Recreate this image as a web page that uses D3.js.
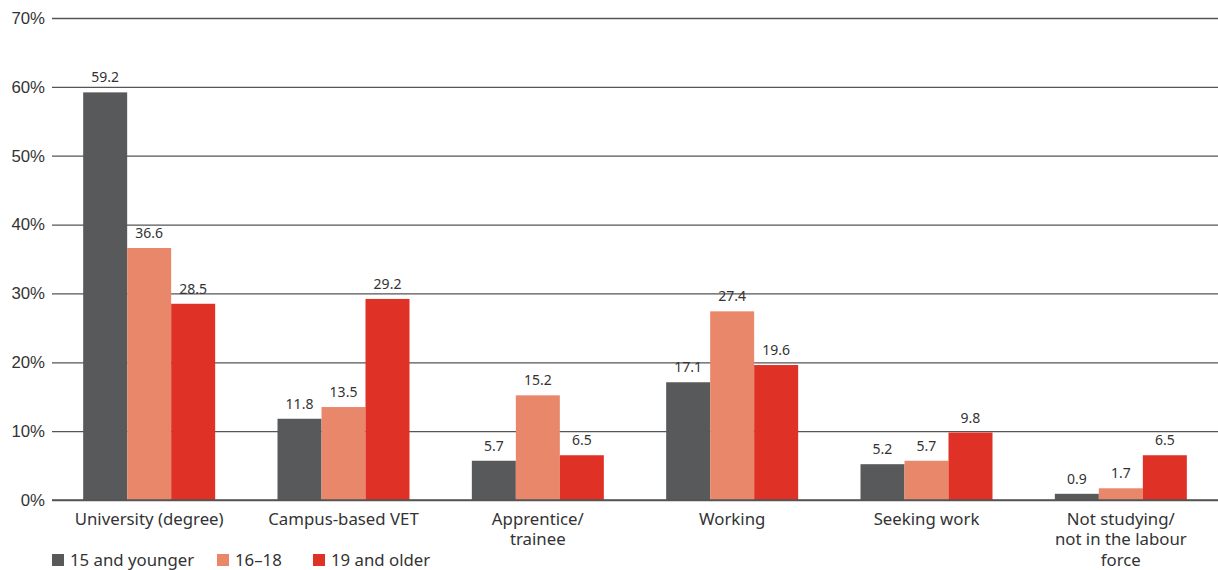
<!DOCTYPE html>
<html>
<head>
<meta charset="utf-8">
<script src="https://cdn.jsdelivr.net/npm/d3@7"></script>
<style>
  body { margin: 0; background: #fff; }
  svg { display: block; font-family: "Noto Sans", "Open Sans", sans-serif; }
</style>
</head>
<body>
<svg id="chart" width="1218" height="570"></svg>
<script>
// Destinations of school leavers by age group (%)
const categories = [
  ["University (degree)"],
  ["Campus-based VET"],
  ["Apprentice/", "trainee"],
  ["Working"],
  ["Seeking work"],
  ["Not studying/", "not in the labour", "force"]
];
const seriesNames = ["15 and younger", "16\u201318", "19 and older"];
const young = [59.2, 11.8, 5.7, 17.1, 5.2, 0.9];
const mid = [36.6, 13.5, 15.2, 27.4, 5.7, 1.7];
const older = [28.5, 29.2, 6.5, 19.6, 9.8, 6.5];
const yTicks = [0, 10, 20, 30, 40, 50, 60, 70];
const colors = ["#58595b", "#e9876b", "#e03127"];

const series = [young, mid, older];
const svg = d3.select("#chart");
const plot = { left: 52, right: 1218, top: 18, bottom: 500 };
const labelSize = 16.8;

const x = d3.scaleBand().domain(d3.range(categories.length)).range([plot.left, plot.right]);
const y = d3.scaleLinear().domain([0, 70]).range([plot.bottom, plot.top]);
const barW = 44;
const xs = d3.scaleBand().domain(d3.range(series.length))
  .range([0, barW * series.length]);

// Gridlines and y labels
const yAxis = d3.axisLeft(y).tickValues(yTicks).tickFormat(d => d + "%")
  .tickSize(-(plot.right - plot.left)).tickPadding(8);
const gy = svg.append("g").attr("transform", `translate(${plot.left},0)`).call(yAxis);
gy.select(".domain").remove();
gy.selectAll(".tick line").attr("stroke", "#555").attr("stroke-width", 1.3);
gy.selectAll(".tick text").attr("fill", "#333").attr("font-size", labelSize)
  .attr("x", -7).attr("font-family", "inherit");

// Bars
const groups = svg.append("g").selectAll("g").data(categories).join("g")
  .attr("transform", (d, i) => `translate(${x(i) + x.bandwidth() / 2 - barW * series.length / 2},0)`);

series.forEach((vals, s) => {
  groups.append("rect")
    .attr("x", xs(s))
    .attr("width", xs.bandwidth())
    .attr("y", (d, i) => y(vals[i]))
    .attr("height", (d, i) => y(0) - y(vals[i]))
    .attr("fill", colors[s]);
  groups.append("text")
    .attr("x", xs(s) + xs.bandwidth() / 2)
    .attr("y", (d, i) => y(vals[i]) - 10)
    .attr("text-anchor", "middle")
    .attr("font-size", 14)
    .attr("fill", "#333")
    .text((d, i) => vals[i].toFixed(1));
});

// Baseline drawn above the bars
svg.append("line").attr("x1", plot.left).attr("x2", plot.right)
  .attr("y1", y(0)).attr("y2", y(0)).attr("stroke", "#555").attr("stroke-width", 1.3);

// Category labels
const cat = svg.append("g").selectAll("text").data(categories).join("text")
  .attr("x", (d, i) => x(i) + x.bandwidth() / 2)
  .attr("y", 525)
  .attr("text-anchor", "middle")
  .attr("font-size", labelSize)
  .attr("fill", "#333");
cat.selectAll("tspan").data(d => d).join("tspan")
  .attr("x", function () { return this.parentNode.getAttribute("x"); })
  .attr("dy", (d, j) => j === 0 ? 0 : 20.3)
  .text(d => d);

// Legend
const legendX = [52, 217, 313];
const lg = svg.append("g").selectAll("g").data(seriesNames).join("g")
  .attr("transform", (d, i) => `translate(${legendX[i]},554)`);
lg.append("rect").attr("width", 12).attr("height", 12).attr("fill", (d, i) => colors[i]);
lg.append("text").attr("x", 18).attr("y", 12).attr("font-size", labelSize).attr("fill", "#333").text(d => d);
</script>
</body>
</html>
